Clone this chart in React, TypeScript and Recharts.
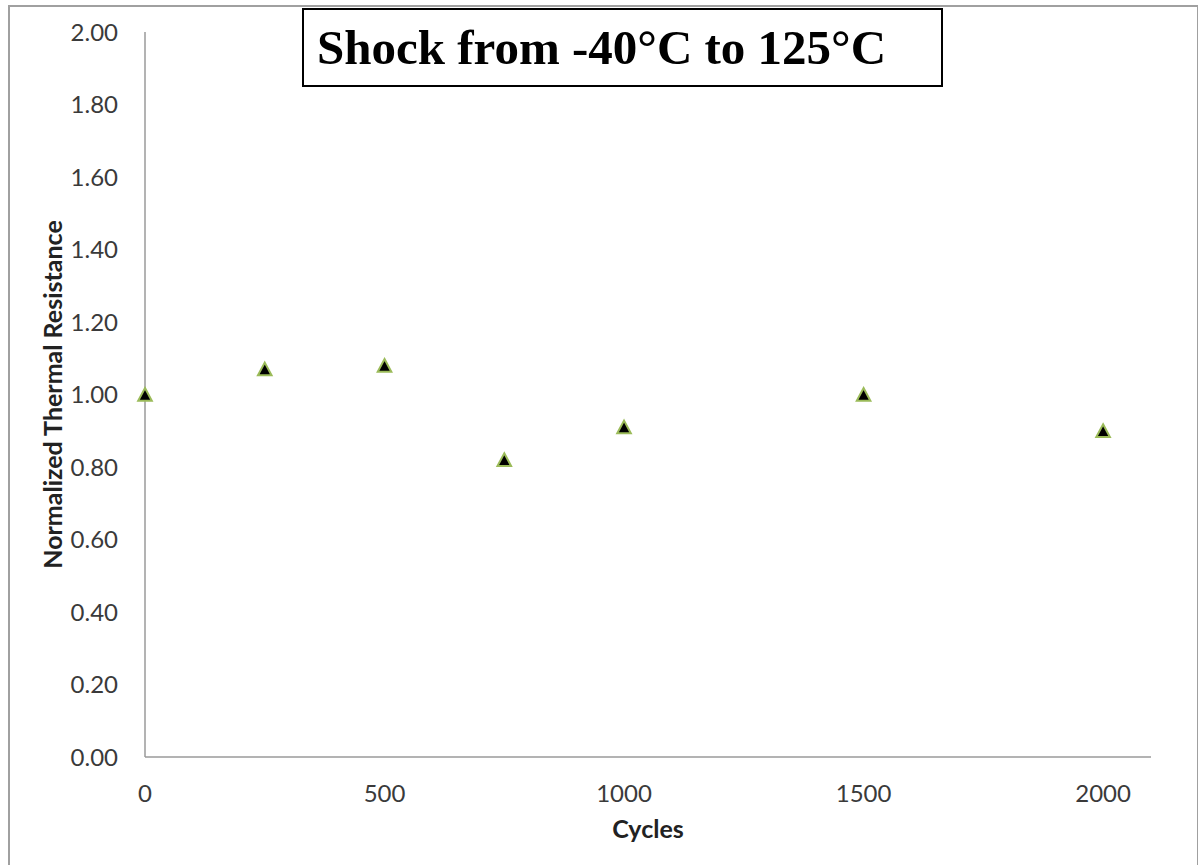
import React from 'react';
import { ScatterChart, Scatter, XAxis, YAxis, Label } from 'recharts';

const cycles = [0, 250, 500, 750, 1000, 1500, 2000];
const resistance = [1.0, 1.07, 1.08, 0.82, 0.91, 1.0, 0.9];
const xTicks = [0, 500, 1000, 1500, 2000];
const yTicks = [0, 0.2, 0.4, 0.6, 0.8, 1.0, 1.2, 1.4, 1.6, 1.8, 2.0];
const titleText = 'Shock from -40°C to 125°C';
const xTitle = 'Cycles';
const yTitle = 'Normalized Thermal Resistance';

const data = cycles.map((c, i) => ({ x: c, y: resistance[i] }));

const FONT = 'Lato, "Open Sans", sans-serif';
const AXIS = '#9a9a9a';

const Triangle = (props: any) => {
  const { cx, cy } = props;
  if (cx == null || cy == null) return null;
  return (
    <polygon
      points={`${cx},${cy - 6.5} ${cx + 6.8},${cy + 6.2} ${cx - 6.8},${cy + 6.2}`}
      fill="#000"
      stroke="#9BBB59"
      strokeWidth={2}
      strokeLinejoin="miter"
    />
  );
};

export default function App() {
  return (
    <div style={{ position: 'absolute', left: 0, top: 0, width: 1198, height: 865, overflow: 'hidden', background: '#fff' }}>
      <div
        style={{
          position: 'absolute',
          left: 8,
          top: 5,
          width: 1187,
          height: 880,
          border: '2px solid #a0a0a0',
        }}
      />
      <div style={{ position: 'absolute', left: 0, top: 0 }}>
        <ScatterChart width={1198} height={865} margin={{ top: 32, right: 47, bottom: 48, left: 0 }}>
          <XAxis
            type="number"
            dataKey="x"
            domain={[0, 2100]}
            ticks={xTicks}
            interval={0}
            height={60}
            axisLine={{ stroke: AXIS, strokeWidth: 1.5 }}
            tickLine={false}
            tickSize={0}
            tickMargin={28}
            tick={{ fill: '#3a3a3a', fontSize: 24, fontFamily: FONT }}
          >
            <Label
              content={(p: any) => {
                const vb = p.viewBox || {};
                return (
                  <text
                    x={vb.x + vb.width / 2}
                    y={838}
                    textAnchor="middle"
                    fontFamily={FONT}
                    fontWeight="bold"
                    fontSize={25}
                    fill="#222"
                  >
                    {xTitle}
                  </text>
                );
              }}
            />
          </XAxis>
          <YAxis
            type="number"
            dataKey="y"
            domain={[0, 2]}
            ticks={yTicks}
            interval={0}
            width={145}
            axisLine={{ stroke: AXIS, strokeWidth: 1.5 }}
            tickLine={false}
            tickSize={0}
            tickMargin={27}
            tickFormatter={(v: number) => v.toFixed(2)}
            tick={{ fill: '#3a3a3a', fontSize: 24, fontFamily: FONT }}
          >
            <Label
              content={(p: any) => {
                const vb = p.viewBox || {};
                const cy = vb.y + vb.height / 2;
                return (
                  <text
                    x={52}
                    y={cy}
                    transform={`rotate(-90 52 ${cy})`}
                    textAnchor="middle"
                    dominantBaseline="central"
                    fontFamily={FONT}
                    fontWeight="bold"
                    fontSize={25}
                    fill="#222"
                  >
                    {yTitle}
                  </text>
                );
              }}
            />
          </YAxis>
          <Scatter data={data} shape={Triangle} isAnimationActive={false} />
        </ScatterChart>
      </div>
      <div
        style={{
          position: 'absolute',
          left: 302,
          top: 8,
          width: 637,
          height: 75,
          border: '2px solid #000',
          boxSizing: 'content-box',
          display: 'flex',
          alignItems: 'center',
          background: '#fff',
        }}
      >
        <span
          style={{
            fontFamily: '"Liberation Serif", "Times New Roman", serif',
            fontWeight: 'bold',
            fontSize: 49,
            marginLeft: 13,
            whiteSpace: 'nowrap',
            color: '#000',
          }}
        >
          {titleText}
        </span>
      </div>
    </div>
  );
}
